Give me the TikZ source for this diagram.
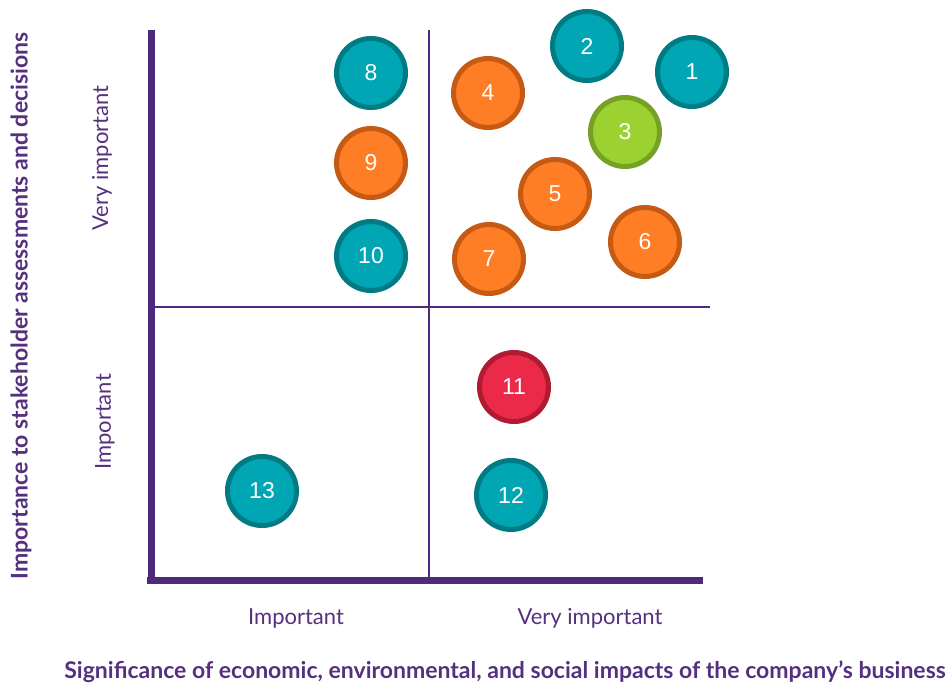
\documentclass[tikz,border=0pt]{standalone}
\usepackage{fontspec}
\setmainfont{Lato}
\newfontfamily\numfont{Liberation Sans}
\definecolor{axispurple}{HTML}{4D2A7C}
\definecolor{textpurple}{HTML}{55307F}
\definecolor{tealfill}{HTML}{00A6B4}
\definecolor{tealline}{HTML}{007B84}
\definecolor{orangefill}{HTML}{FF7D24}
\definecolor{orangeline}{HTML}{C45A14}
\definecolor{greenfill}{HTML}{9BD231}
\definecolor{greenline}{HTML}{77A026}
\definecolor{redfill}{HTML}{EA2A48}
\definecolor{redline}{HTML}{B01B31}
\begin{document}
\begin{tikzpicture}[x=1pt,y=-1pt,
  bub/.style={circle, minimum size=69pt, line width=5pt, inner sep=0pt,
    font=\numfont\fontsize{23}{25}\selectfont, text=white},
  teal/.style={bub, fill=tealfill, draw=tealline},
  orng/.style={bub, fill=orangefill, draw=orangeline},
  grn/.style={bub, fill=greenfill, draw=greenline},
  rd/.style={bub, fill=redfill, draw=redline},
  thickaxis/.style={draw=axispurple, line width=7pt},
  thinaxis/.style={draw=axispurple, line width=2pt},
  lvl/.style={text=textpurple, font=\fontsize{22}{26}\selectfont, inner sep=0pt},
  title/.style={text=textpurple, font=\bfseries\fontsize{23}{27}\selectfont, inner sep=0pt}]
\useasboundingbox (0,0) rectangle (949,687);
% axes
\draw[thinaxis] (429,30) -- (429,577);
\draw[thinaxis] (154,307) -- (710,307);
\draw[thickaxis] (151,30) -- (151,583);
\draw[thickaxis] (147,580) -- (703,580);
% bubbles
\node[teal] (n1) at (692,72) {1};
\node[teal] (n2) at (587,46) {2};
\node[grn]  (n3) at (625,132) {3};
\node[orng] (n4) at (488,93) {4};
\node[orng] (n5) at (555,194) {5};
\node[orng] (n6) at (645,242) {6};
\node[orng] (n7) at (489,259) {7};
\node[teal] (n8) at (371,73) {8};
\node[orng] (n9) at (371,163) {9};
\node[teal] (n10) at (371,256) {10};
\node[rd]   (n11) at (514,387) {11};
\node[teal] (n12) at (511,495) {12};
\node[teal] (n13) at (262,491) {13};
% level labels
\node[lvl] (xlo) at (296,618) {Important};
\node[lvl] (xhi) at (590,618) {Very important};
\node[lvl, rotate=90] (ylo) at (105,422) {Important};
\node[lvl, rotate=90] (yhi) at (102,158) {Very important};
% axis titles
\node[title] (xt) at (505,672) {Significance of economic, environmental, and social impacts of the company’s business};
\node[title, rotate=90] (yt) at (21,306) {Importance to stakeholder assessments and decisions};
\end{tikzpicture}
\end{document}
